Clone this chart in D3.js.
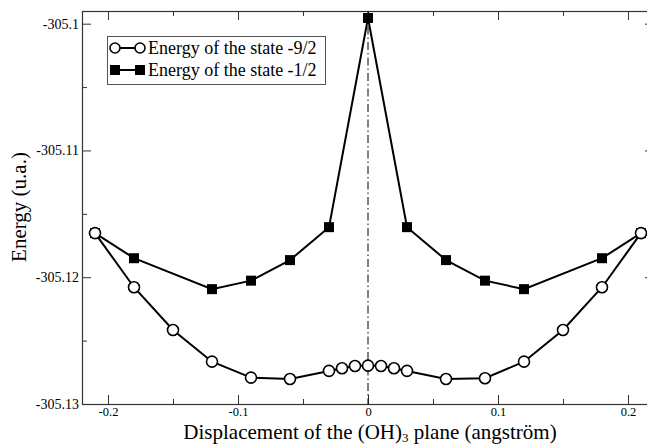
<!DOCTYPE html>
<html><head><meta charset="utf-8">
<script src="https://cdn.jsdelivr.net/npm/d3@7"></script>
<style>
html,body{margin:0;padding:0;background:#fff;}
svg{display:block;font-family:"Liberation Serif","Times New Roman",serif;}
</style></head>
<body><svg id="c" width="647" height="445"></svg>
<script>
const xCircle = [-0.21,-0.18,-0.15,-0.12,-0.09,-0.06,-0.03,-0.02,-0.01,0,0.01,0.02,0.03,0.06,0.09,0.12,0.15,0.18,0.21];
const yCircle = [-305.11652,-305.12079,-305.12416,-305.12666,-305.12792,-305.12803,-305.12739,-305.12718,-305.12700,-305.12697,-305.12700,-305.12718,-305.12739,-305.12803,-305.12797,-305.12666,-305.12416,-305.12079,-305.11652];
const xSquare = [-0.21,-0.18,-0.12,-0.09,-0.06,-0.03,0,0.03,0.06,0.09,0.12,0.18,0.21];
const ySquare = [-305.11652,-305.11850,-305.12094,-305.12027,-305.11865,-305.11605,-305.09955,-305.11605,-305.11865,-305.12027,-305.12094,-305.11850,-305.11652];
const seriesNames = ["Energy of the state -9/2","Energy of the state -1/2"];
const xTicks = [-0.2,-0.1,0,0.1,0.2];
const xTickLabels = ["-0.2","-0.1","0","0.1","0.2"];
const xMinor = [-0.15,-0.05,0.05,0.15];
const yTicks = [-305.1,-305.11,-305.12,-305.13];
const yTickLabels = ["-305.1","-305.11","-305.12","-305.13"];
const yMinor = [-305.105,-305.115,-305.125];
const xTitle = "Displacement of the (OH)";
const xTitleSub = "3";
const xTitleEnd = " plane (angström)";
const yTitle = "Energy (u.a.)";

const svg = d3.select("#c");
const L=82, R=654, T=11, B=404;
const x = d3.scaleLinear().domain([-0.22,0.22]).range([L,R]);
const y = d3.scaleLinear().domain([-305.13,-305.099]).range([B,T]);
const axisColor = "#333";

function styleAxis(g, size){
  g.attr("font-family", null).attr("font-size", size || 14);
  g.selectAll("path").remove();
  g.selectAll("line").attr("stroke",axisColor);
  g.selectAll("text").attr("fill","#000");
}
svg.append("g").attr("transform",`translate(0,${B})`)
  .call(d3.axisBottom(x).tickValues(xTicks).tickSize(-9).tickPadding(3).tickFormat((d,i)=>xTickLabels[i])).call(g=>styleAxis(g,12.5));
svg.append("g").attr("transform",`translate(0,${B})`)
  .call(d3.axisBottom(x).tickValues(xMinor).tickSize(-5).tickFormat("")).call(styleAxis);
svg.append("g").attr("transform",`translate(0,${T})`)
  .call(d3.axisTop(x).tickValues(xTicks).tickSize(-9).tickFormat("")).call(styleAxis);
svg.append("g").attr("transform",`translate(0,${T})`)
  .call(d3.axisTop(x).tickValues(xMinor).tickSize(-5).tickFormat("")).call(styleAxis);
svg.append("g").attr("transform",`translate(${L},0)`)
  .call(d3.axisLeft(y).tickValues(yTicks).tickSize(-9).tickPadding(3).tickFormat((d,i)=>yTickLabels[i])).call(g=>styleAxis(g,14));
svg.append("g").attr("transform",`translate(${L},0)`)
  .call(d3.axisLeft(y).tickValues(yMinor).tickSize(-5).tickFormat("")).call(styleAxis);
svg.append("g").attr("transform",`translate(${R},0)`)
  .call(d3.axisRight(y).tickValues(yTicks).tickSize(-9).tickFormat("")).call(styleAxis);
svg.append("g").attr("transform",`translate(${R},0)`)
  .call(d3.axisRight(y).tickValues(yMinor).tickSize(-5).tickFormat("")).call(styleAxis);

svg.append("rect").attr("x",L+0.5).attr("y",T+0.5).attr("width",R-L).attr("height",B-T)
  .attr("fill","none").attr("stroke",axisColor).attr("stroke-width",1.2);

svg.append("line").attr("x1",x(0)).attr("x2",x(0)).attr("y1",T).attr("y2",B)
  .attr("stroke","#000").attr("stroke-width",1).attr("stroke-dasharray","8,3,1.5,3");

const line = d3.line().x(d=>x(d[0])).y(d=>y(d[1]));
const dC = xCircle.map((v,i)=>[v,yCircle[i]]);
const dS = xSquare.map((v,i)=>[v,ySquare[i]]);

svg.append("path").datum(dC).attr("d",line).attr("fill","none").attr("stroke","#000").attr("stroke-width",2);
svg.append("path").datum(dS).attr("d",line).attr("fill","none").attr("stroke","#000").attr("stroke-width",2);

svg.append("g").selectAll("rect").data(dS).join("rect")
  .attr("x",d=>x(d[0])-5).attr("y",d=>y(d[1])-5).attr("width",10).attr("height",10).attr("fill","#000");
svg.append("g").selectAll("circle").data(dC).join("circle")
  .attr("cx",d=>x(d[0])).attr("cy",d=>y(d[1])).attr("r",5.5)
  .attr("fill","#fff").attr("stroke","#000").attr("stroke-width",1.6);

const lg = svg.append("g");
lg.append("rect").attr("x",107.5).attr("y",36.5).attr("width",218).attr("height",48)
  .attr("fill","#fff").attr("stroke","#555").attr("stroke-width",1);
[48,70].forEach((cy,i)=>{
  lg.append("line").attr("x1",115).attr("x2",140).attr("y1",cy).attr("y2",cy).attr("stroke","#000").attr("stroke-width",2);
  [115,140].forEach(cx=>{
    if(i===0) lg.append("circle").attr("cx",cx).attr("cy",cy).attr("r",5).attr("fill","#fff").attr("stroke","#000").attr("stroke-width",1.6);
    else lg.append("rect").attr("x",cx-5).attr("y",cy-5).attr("width",10).attr("height",10).attr("fill","#000");
  });
  lg.append("text").attr("x",148).attr("y",cy+6).attr("font-size",18).text(seriesNames[i]);
});

const xt = svg.append("text").attr("x",(185+555)/2).attr("y",439).attr("text-anchor","middle").attr("font-size",21);
xt.append("tspan").text(xTitle);
xt.append("tspan").attr("dy",3).attr("font-size",13).text(xTitleSub);
xt.append("tspan").attr("dy",-3).text(xTitleEnd);
svg.append("text").attr("transform","translate(26,207) rotate(-90)").attr("text-anchor","middle").attr("font-size",21).text(yTitle);
</script></body></html>
